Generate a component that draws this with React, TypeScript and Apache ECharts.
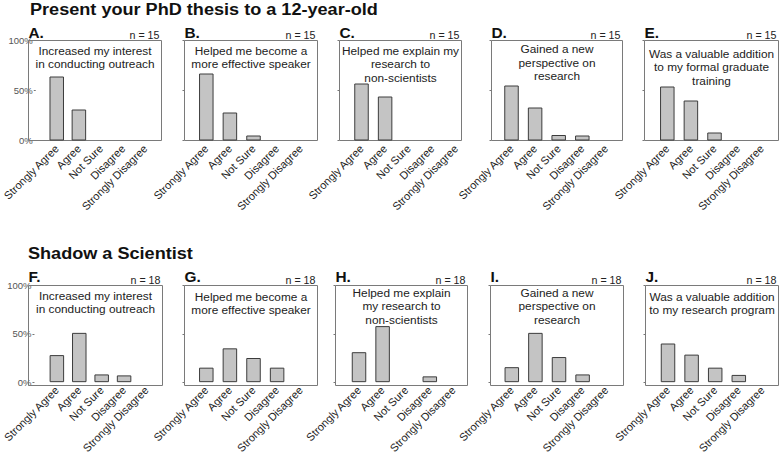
import React, { useEffect, useRef } from "react";
import * as echarts from "echarts";

// ---------- data ----------
const CATEGORIES = ["Strongly Agree", "Agree", "Not Sure", "Disagree", "Strongly Disagree"];
const Y_TICKS = [0, 50, 100];

const TITLE_TOP = "Present your PhD thesis to a 12-year-old";
const TITLE_BOTTOM = "Shadow a Scientist";

const PANEL_LETTERS = ["A.", "B.", "C.", "D.", "E.", "F.", "G.", "H.", "I.", "J."];
const PANEL_N = [15, 15, 15, 15, 15, 18, 18, 18, 18, 18];
const PANEL_STATEMENTS = [
  "Increased my interest\nin conducting outreach",
  "Helped me become a\nmore effective speaker",
  "Helped me explain my\nresearch to\nnon-scientists",
  "Gained a new\nperspective on\nresearch",
  "Was a valuable addition\nto my formal graduate\ntraining",
  "Increased my interest\nin conducting outreach",
  "Helped me become a\nmore effective speaker",
  "Helped me explain\nmy research to\nnon-scientists",
  "Gained a new\nperspective on\nresearch",
  "Was a valuable addition\nto my research program",
];

// percent of respondents, in CATEGORIES order
const A_VALUES = [64, 31, 0, 0, 0];
const B_VALUES = [67, 28, 5, 0, 0];
const C_VALUES = [57, 44, 0, 0, 0];
const D_VALUES = [55, 33, 5.5, 5, 0];
const E_VALUES = [54, 40, 8, 0, 0];
const F_VALUES = [28, 51, 8, 7, 0];
const G_VALUES = [15, 35, 25, 15, 0];
const H_VALUES = [31, 58, 0, 6, 0];
const I_VALUES = [15.5, 51, 26, 8, 0];
const J_VALUES = [40, 28.5, 15, 7.5, 0];
const PANEL_VALUES = [A_VALUES, B_VALUES, C_VALUES, D_VALUES, E_VALUES, F_VALUES, G_VALUES, H_VALUES, I_VALUES, J_VALUES];

// ---------- layout (pixels) ----------
const FONT = "'Liberation Sans', Arial, Helvetica, sans-serif";
const ROW_TOP = [40.5, 285.5];
const BOX_H = 100;
const CAT_STEP = 23.6;
const BOX_X: [number, number][] = [
  [28.5, 161.5], [184.5, 317.5], [339.5, 461.5], [491.5, 622.5], [644.5, 778.5],
  [28.5, 162.5], [184.5, 317.5], [335.5, 467.5], [490.5, 623.5], [645.5, 778.5],
];
const FIRST_CENTER = [50.2, 206.3, 361.5, 511.5, 667.3, 51.5, 206.3, 359, 511.8, 668];
const STATEMENT_TOP = [43.8, 43.8, 43.8, 42.3, 46.8, 288.8, 289.6, 285.8, 285.8, 289.6];
const LETTER_MID = [33.6, 277.3];
const N_MID = [35.5, 280.5];

export default function App() {
  const ref = useRef<HTMLDivElement>(null);

  useEffect(() => {
    if (!ref.current) return;
    const chart = echarts.init(ref.current, undefined, { renderer: "svg" });

    const grids: any[] = [];
    const xAxes: any[] = [];
    const yAxes: any[] = [];
    const series: any[] = [];
    const graphics: any[] = [];

    PANEL_VALUES.forEach((vals, i) => {
      const row = i < 5 ? 0 : 1;
      const top = ROW_TOP[row];
      const [bl, br] = BOX_X[i];
      const gl = FIRST_CENTER[i] - CAT_STEP / 2;
      grids.push({ left: gl, top, width: CAT_STEP * CATEGORIES.length, height: BOX_H });
      xAxes.push({
        type: "category",
        gridIndex: i,
        data: CATEGORIES,
        boundaryGap: true,
        axisLine: { show: false },
        axisTick: { show: false },
        axisLabel: {
          interval: 0,
          rotate: 45,
          margin: 6,
          fontSize: 11,
          fontFamily: FONT,
          color: "#222",
        },
      });
      yAxes.push({
        type: "value",
        gridIndex: i,
        min: Y_TICKS[0],
        max: Y_TICKS[Y_TICKS.length - 1],
        interval: Y_TICKS[1] - Y_TICKS[0],
        offset: gl - bl,
        axisLine: { show: false },
        axisTick: { show: true, length: 2, lineStyle: { color: "#777", width: 1 } },
        splitLine: { show: false },
        axisLabel: {
          show: i % 5 === 0,
          formatter: "{value}%",
          fontSize: 9.5,
          fontFamily: FONT,
          color: "#555",
          margin: 3,
        },
      });
      series.push({
        type: "bar",
        xAxisIndex: i,
        yAxisIndex: i,
        data: vals.map((v) => (v === 0 ? null : v)),
        barWidth: 14.5,
        silent: true,
        itemStyle: { color: "#c4c4c4", borderColor: "#3c3c3c", borderWidth: 1 },
        z: 3,
      });

      graphics.push({
        type: "rect",
        z: 1,
        shape: { x: bl, y: top, width: br - bl, height: BOX_H },
        style: { fill: "none", stroke: "#7a7a7a", lineWidth: 1 },
      });
      graphics.push({
        type: "text",
        x: bl,
        y: LETTER_MID[row],
        scaleX: 1.1,
        style: {
          text: PANEL_LETTERS[i],
          fontSize: 14,
          fontWeight: "bold",
          fontFamily: FONT,
          fill: "#111",
          align: "left",
          verticalAlign: "middle",
        },
      });
      graphics.push({
        type: "text",
        x: br - 2,
        y: N_MID[row],
        scaleX: 1.07,
        style: {
          text: "n = " + PANEL_N[i],
          fontSize: 10,
          fontFamily: FONT,
          fill: "#222",
          align: "right",
          verticalAlign: "middle",
        },
      });
      graphics.push({
        type: "text",
        x: (bl + br) / 2,
        y: STATEMENT_TOP[i],
        scaleX: 1.03,
        style: {
          text: PANEL_STATEMENTS[i],
          fontSize: 11.5,
          lineHeight: 13.5,
          fontFamily: FONT,
          fill: "#222",
          align: "center",
          verticalAlign: "top",
        },
      });
    });

    graphics.push({
      type: "text",
      x: 30,
      y: 9.5,
      scaleX: 1.065,
      style: {
        text: TITLE_TOP,
        fontSize: 17,
        fontWeight: "bold",
        fontFamily: FONT,
        fill: "#111",
        align: "left",
        verticalAlign: "middle",
      },
    });
    graphics.push({
      type: "text",
      x: 28,
      y: 253.5,
      scaleX: 1.065,
      style: {
        text: TITLE_BOTTOM,
        fontSize: 17,
        fontWeight: "bold",
        fontFamily: FONT,
        fill: "#111",
        align: "left",
        verticalAlign: "middle",
      },
    });

    chart.setOption({
      animation: false,
      backgroundColor: "#ffffff",
      grid: grids,
      xAxis: xAxes,
      yAxis: yAxes,
      series,
      graphic: { elements: graphics },
    });

    return () => chart.dispose();
  }, []);

  return (
    <div
      ref={ref}
      style={{ position: "fixed", left: 0, top: 0, width: 780, height: 456, background: "#fff" }}
    />
  );
}
